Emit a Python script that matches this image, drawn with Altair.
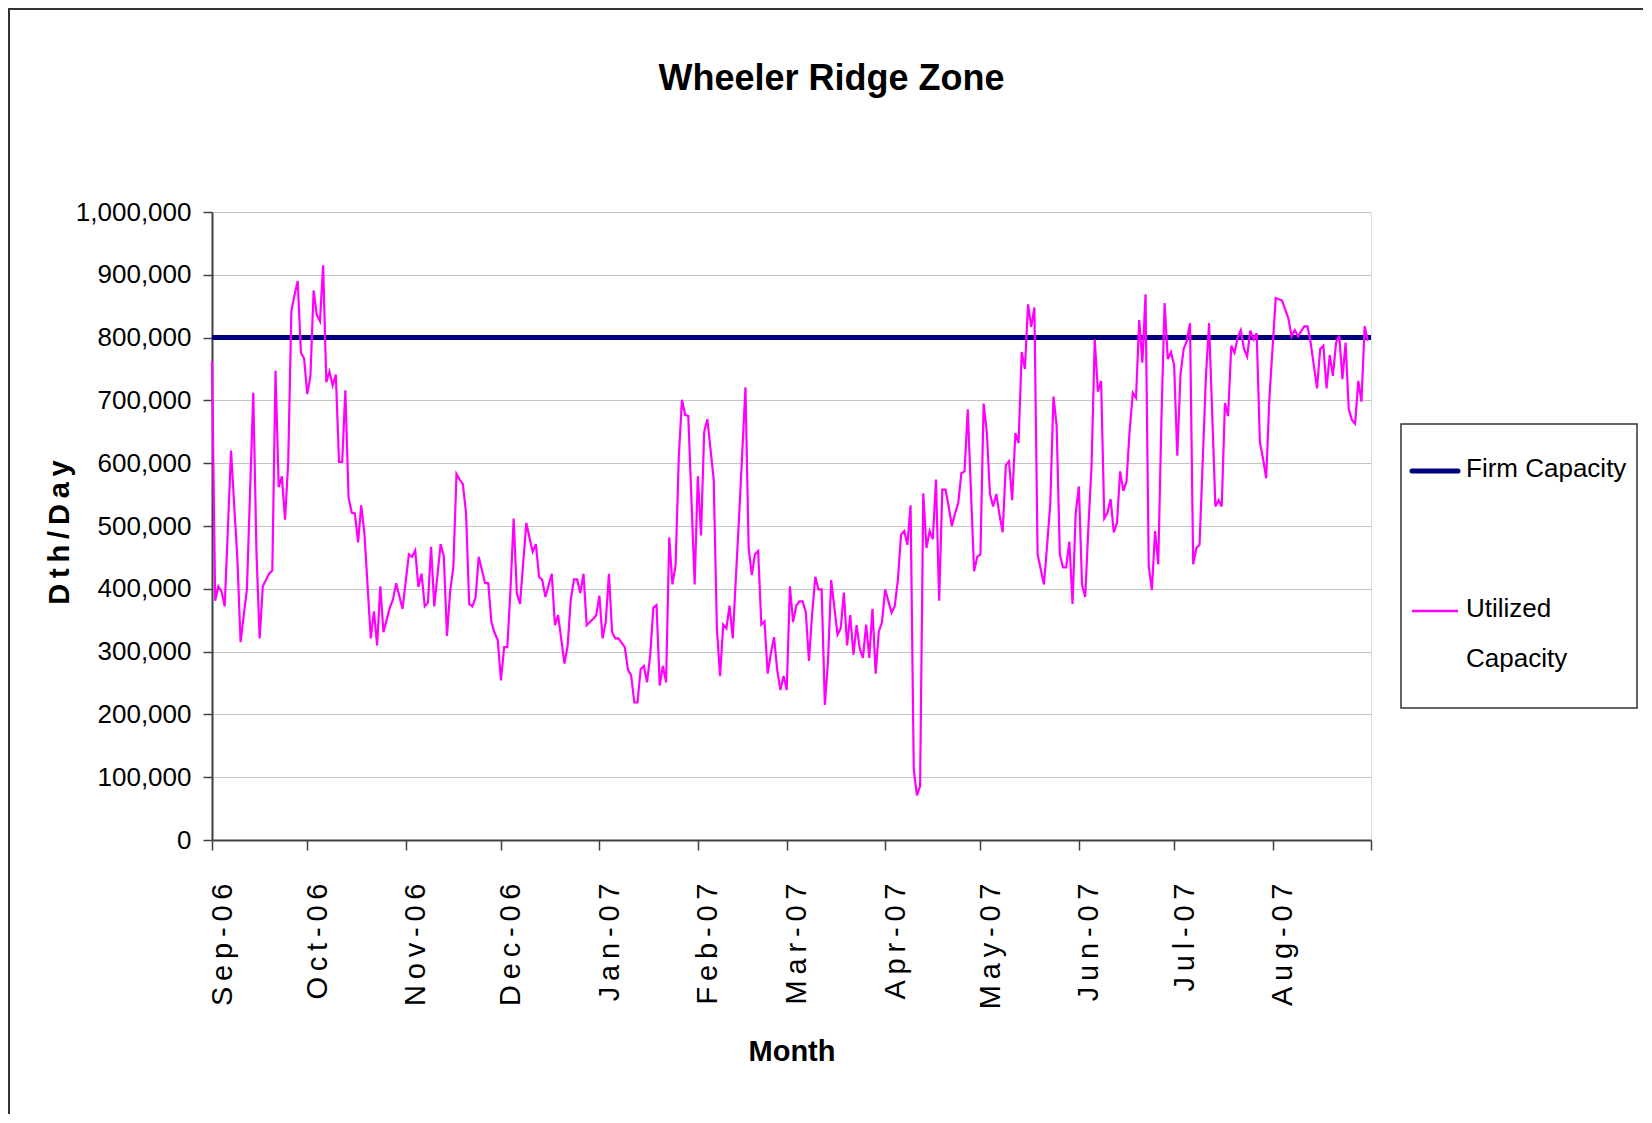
import altair as alt
import pandas as pd

TITLE = "Wheeler Ridge Zone"
X_TITLE = "Month"
Y_TITLE = "Dth/Day"
series_names = ["Firm Capacity", "Utilized Capacity"]
series_colors = ["#000080", "#FF00FF"]

month_labels = ["Sep-06", "Oct-06", "Nov-06", "Dec-06", "Jan-07", "Feb-07",
                "Mar-07", "Apr-07", "May-07", "Jun-07", "Jul-07", "Aug-07"]
# day offset (from 1 Sep 2006) of each month start, plus the closing 1 Sep 2007
month_start_day = [0, 30, 61, 91, 122, 153, 181, 212, 242, 273, 303, 334, 365]
y_ticks = [0, 100000, 200000, 300000, 400000, 500000, 600000, 700000, 800000, 900000, 1000000]

firm_day = [0, 365]
firm_value = [800000, 800000]

# Utilized capacity: day offset from 1 Sep 2006, value in thousands of Dth/Day
util_day = [
    0, 1, 2, 3, 4, 6, 8, 9, 11, 13, 14, 15, 16, 18, 19, 20, 21, 22, 23, 24, 25, 26, 27, 28, 29,
    30, 31, 32, 33, 34, 35, 36, 37, 38, 39, 40, 41, 42, 43, 44, 45, 46, 47, 48, 50, 51, 52, 53,
    54, 56, 57, 58, 60,
    62, 63, 64, 65, 66, 67, 68, 69, 70, 72, 73, 74, 75, 76, 77, 78, 79, 80, 81, 82, 83, 84, 85,
    86, 87, 88, 89, 90, 91, 92, 93, 94, 95, 96, 97, 99, 100, 101, 102, 103, 104, 105, 107, 108,
    109, 111, 112, 113, 114, 115, 116, 117, 118, 119,
    120, 121, 122, 123, 124, 125, 126, 127, 128, 130, 131, 132, 133, 134, 135, 136, 137, 138,
    139, 140, 141, 142, 143, 144, 145, 146, 147, 148, 149, 150, 152, 153, 154, 155, 156, 158,
    159, 160, 161, 162, 163, 164, 165, 166, 167, 168, 169, 170, 171, 172, 173, 174, 175, 176,
    177, 178,
    179, 180, 181, 182, 183, 184, 185, 186, 187, 188, 189, 190, 191, 192, 193, 194, 195, 197,
    198, 199, 200, 201, 202, 203, 204, 205, 206, 207, 208, 209, 210, 211, 212, 214, 215, 216,
    217, 218, 219, 220, 221, 222, 223, 224, 225, 226, 227, 228, 229, 230, 231, 232, 233, 234,
    235, 236, 237, 238,
    240, 241, 242, 243, 244, 245, 246, 247, 248, 249, 250, 251, 252, 253, 254, 255, 256, 257,
    258, 259, 260, 262, 263, 264, 265, 266, 267, 268, 269, 270, 271, 272, 273, 274, 275, 276,
    277, 278, 279, 280, 281, 282, 283, 284, 285, 286, 287, 288, 289, 290, 291, 292, 293, 294,
    295, 296, 297, 298,
    299, 300, 301, 302, 303, 304, 305, 306, 307, 308, 309, 310, 311, 313, 314, 316, 317, 318,
    319, 320, 321, 322, 323, 324, 325, 326, 327, 328, 329, 330, 331, 332, 333, 335, 337, 339,
    340, 341, 342, 344, 345, 346, 348, 349, 350, 351, 352, 353, 354, 355, 356, 357, 358, 359,
    360, 361, 362, 363, 364,
]
util_value_k = [
    762, 381, 404, 396, 372, 620, 446, 315, 400, 712, 459, 321, 404, 424, 429, 747, 562, 579, 510,
    601, 842, 868, 890, 776, 767, 710, 739, 875, 836, 826, 915, 729, 746, 724, 741, 602, 602, 716,
    546, 521, 520, 474, 533, 488, 321, 364, 310, 404, 331, 370, 383, 409, 368,
    455, 451, 461, 403, 424, 372, 378, 467, 372, 471, 452, 325, 396, 434, 583, 574, 567, 521, 376,
    372, 386, 451, 430, 409, 409, 347, 330, 318, 254, 307, 307, 399, 512, 393, 376, 505, 481, 459,
    471, 419, 414, 387, 424, 342, 358, 281, 310, 383, 415, 415, 393, 424, 342, 347,
    352, 358, 389, 321, 347, 424, 331, 321, 321, 307, 271, 262, 219, 219, 272, 277, 251, 294, 370,
    374, 246, 277, 251, 482, 407, 438, 609, 701, 677, 675, 407, 579, 485, 650, 670, 574, 337, 261,
    343, 337, 373, 321, 419, 515, 617, 721, 465, 422, 455, 460, 343, 348, 265, 297, 323, 271,
    239, 261, 239, 404, 347, 373, 380, 380, 363, 285, 360, 419, 399, 399, 215, 285, 414, 327, 337,
    394, 310, 358, 295, 342, 305, 290, 343, 290, 368, 265, 332, 347, 399, 362, 372, 414, 486, 492,
    470, 533, 112, 71, 86, 552, 465, 492, 479, 574, 381, 558, 558, 531, 500, 520, 536, 584, 587,
    686,
    428, 451, 455, 695, 650, 551, 531, 551, 518, 490, 597, 603, 541, 648, 632, 777, 750, 853, 817,
    848, 455, 407, 469, 536, 706, 660, 455, 434, 434, 475, 376, 520, 563, 406, 387, 498, 597, 797,
    714, 731, 512, 521, 543, 490, 505, 587, 556, 571, 653, 712, 704, 828, 760, 869, 436, 398, 492,
    439,
    670, 855, 766, 777, 756, 612, 741, 782, 795, 823, 439, 465, 470, 736, 823, 531, 541, 531, 696,
    675, 787, 776, 800, 812, 782, 770, 811, 797, 807, 634, 607, 576, 704, 863, 859, 830, 802, 812,
    802, 818, 818, 792, 719, 782, 787, 719, 772, 739, 792, 803, 734, 792, 686, 669, 663, 731, 698,
    818, 795,
]
assert len(util_day) == len(util_value_k), (len(util_day), len(util_value_k))

FONT = "Liberation Sans, Arial, sans-serif"
W, H = 1159, 628

util_df = pd.DataFrame({"day": util_day,
                        "value": [v * 1000 for v in util_value_k],
                        "series": series_names[1]})
firm_df = pd.DataFrame({"day": firm_day, "value": firm_value, "series": series_names[0]})
one = pd.DataFrame({"k": [0]})

spaced = ["\u2009".join(s) for s in month_labels] + [""]
label_expr = ("[" + ",".join("'" + s + "'" for s in spaced) + "][indexof(["
              + ",".join(str(d) for d in month_start_day) + "], datum.value)]")

x_enc = alt.X("day:Q",
              scale=alt.Scale(domain=[0, 365], nice=False, zero=False),
              axis=alt.Axis(values=month_start_day, labelExpr=label_expr, labelAngle=-90,
                            labelAlign="right", labelBaseline="middle", labelOffset=10,
                            labelPadding=33, tickSize=10, grid=False, labelFont=FONT,
                            labelFontSize=29, labelColor="black", tickColor="#404040",
                            domainColor="#404040", domainWidth=2, tickWidth=1.5,
                            title=X_TITLE, titleFont=FONT, titleFontSize=29,
                            titleFontWeight="bold", titleColor="black", titleX=W / 2,
                            titleY=211, titleBaseline="middle", titleAlign="center"))
y_enc = alt.Y("value:Q",
              scale=alt.Scale(domain=[0, 1000000], nice=False),
              axis=alt.Axis(values=y_ticks, format=",d", tickSize=9, labelPadding=12,
                            labelFont=FONT, labelFontSize=26, labelColor="black",
                            tickColor="#404040", domainColor="#404040", domainWidth=2,
                            tickWidth=1.5, gridColor="#c4c4c4", gridWidth=1,
                            title="\u2009".join(Y_TITLE), titleFont=FONT, titleFontSize=29,
                            titleFontWeight="bold", titleColor="black", titleAngle=-90,
                            titleX=-153, titleY=320, titleAlign="center",
                            titleBaseline="middle"))

border = alt.Chart(one).mark_rect(filled=False, stroke="#333333", strokeWidth=2).encode(
    x=alt.value(-203), x2=alt.value(2000), y=alt.value(-203), y2=alt.value(2000))

firm = alt.Chart(firm_df).mark_line(color=series_colors[0], strokeWidth=5).encode(
    x=x_enc, y=y_enc)
util = alt.Chart(util_df).mark_line(color=series_colors[1], strokeWidth=2.2).encode(
    x="day:Q", y="value:Q")

legend_box = alt.Chart(one).mark_rect(fill="white", stroke="#333333", strokeWidth=1.5).encode(
    x=alt.value(1189), x2=alt.value(1425), y=alt.value(212), y2=alt.value(496))
leg_firm_sym = alt.Chart(one).mark_rule(color=series_colors[0], strokeWidth=5,
                                        strokeCap="round").encode(
    x=alt.value(1200), x2=alt.value(1246), y=alt.value(259))
leg_util_sym = alt.Chart(one).mark_rule(color=series_colors[1], strokeWidth=2.5).encode(
    x=alt.value(1200), x2=alt.value(1246), y=alt.value(399))
leg_firm_txt = alt.Chart(one).mark_text(align="left", baseline="middle", font=FONT,
                                        fontSize=26, color="black").encode(
    x=alt.value(1254), y=alt.value(257), text=alt.value(series_names[0]))
util_words = series_names[1].split(" ")
leg_util_txt1 = alt.Chart(one).mark_text(align="left", baseline="middle", font=FONT,
                                         fontSize=26, color="black").encode(
    x=alt.value(1254), y=alt.value(397), text=alt.value(util_words[0]))
leg_util_txt2 = alt.Chart(one).mark_text(align="left", baseline="middle", font=FONT,
                                         fontSize=26, color="black").encode(
    x=alt.value(1254), y=alt.value(447), text=alt.value(util_words[1]))

chart = alt.layer(
    border, firm, util, legend_box, leg_firm_sym, leg_util_sym,
    leg_firm_txt, leg_util_txt1, leg_util_txt2
).properties(
    width=W, height=H,
    title=alt.TitleParams(TITLE, anchor="middle", frame="group", font=FONT, fontSize=36,
                          fontWeight="bold", color="black", baseline="alphabetic",
                          offset=0, dx=40, dy=118),
    autosize=alt.AutoSizeParams(type="none"),
    padding={"left": 204, "top": 204, "right": 272, "bottom": 274},
).configure_view(stroke="#808080", strokeWidth=2).configure(background="white")

chart.save("out.html", embed_options={"renderer": "svg", "actions": False})
